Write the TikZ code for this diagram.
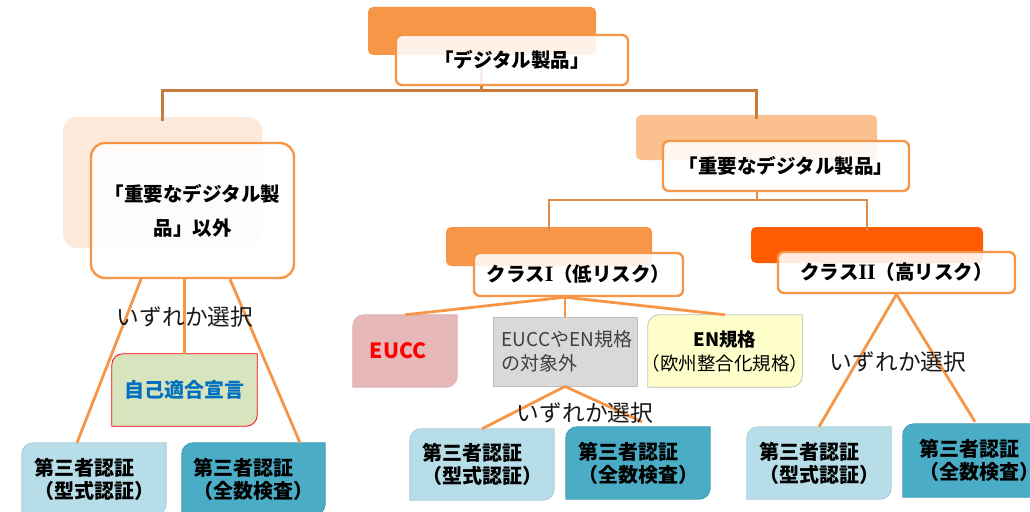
\documentclass[tikz,border=0pt]{standalone}
\usepackage{fontspec}
\setmainfont{Noto Sans CJK JP}
\newfontfamily\romanI{Liberation Serif}
\usetikzlibrary{calc}
\pgfdeclarelayer{back}
\pgfdeclarelayer{canvas}
\pgfsetlayers{canvas,back,main}
\definecolor{org}{HTML}{F79646}
\definecolor{lightorg}{HTML}{FAC090}
\definecolor{peach}{HTML}{FDE9D9}
\definecolor{darkorg}{HTML}{FF5B00}
\definecolor{brownln}{HTML}{C77B3D}
\definecolor{midln}{HTML}{E08B48}
\definecolor{euccfill}{HTML}{E6B9B8}
\definecolor{grayfill}{HTML}{D9D9D9}
\definecolor{grayedge}{HTML}{BFBFBF}
\definecolor{enfill}{HTML}{FFFFCC}
\definecolor{selffill}{HTML}{D7E4BD}
\definecolor{ltblue}{HTML}{B7DEE8}
\definecolor{ltblueedge}{HTML}{A9CCD6}
\definecolor{teal}{HTML}{4BACC6}
\definecolor{tealedge}{HTML}{3F9AB3}
\definecolor{selftext}{HTML}{0070C0}
\definecolor{graytext}{HTML}{404040}
\tikzset{
  sz/.style 2 args={minimum width=#1pt, minimum height=#2pt},
  backrect/.style={rounded corners=5pt, inner sep=0pt, fill=#1, draw=none},
  frontbox/.style={rounded corners=6pt, draw=org, line width=2.4pt, fill=white,
    fill opacity=0.88, text opacity=1, inner sep=0pt, align=center,
    font=\bfseries\fontsize{19.5}{23}\selectfont},
  leafbox/.style={inner sep=0pt, align=left, font=\bfseries\fontsize{20}{23}\selectfont},
  choice/.style={inner sep=0pt, font=\fontsize{22.7}{26}\selectfont, text=black!90},
  brownline/.style={draw=brownln, line width=3pt},
  midline/.style={draw=midln, line width=2.6pt},
  leafline/.style={draw=org, line width=2.8pt},
}
\newcommand\bigI[1]{{\romanI\fontsize{22}{23}\selectfont #1}}
\newcommand\diagfill[3]{%
  \begin{pgfonlayer}{back}
  \path[fill=#2, draw=#3, line width=0.8pt] (#1.south west) -- ([yshift=-11pt]#1.north west)
    .. controls ([yshift=-5pt]#1.north west) and ([xshift=5pt]#1.north west) .. ([xshift=11pt]#1.north west)
    -- (#1.north east) -- ([yshift=11pt]#1.south east)
    .. controls ([yshift=5pt]#1.south east) and ([xshift=-5pt]#1.south east) .. ([xshift=-11pt]#1.south east)
    -- cycle;
  \end{pgfonlayer}}
\begin{document}
\begin{tikzpicture}[x=1pt, y=-1pt]
\clip (0,0) rectangle (1030,511);
\begin{pgfonlayer}{canvas}
\fill[white] (0,0) rectangle (1030,511);
\end{pgfonlayer}

% top level
\node[backrect=org, sz={228}{48}] (topback) at (482,31) {};
\node[frontbox, sz={232}{50}] (top) at (512,60) {「デジタル製品」};

% second level
\node[backrect=peach, sz={199}{131}, rounded corners=14pt] (lback) at (162.5,182.5) {};
\node[frontbox, sz={203}{135}, rounded corners=14pt, font=\bfseries\fontsize{19.5}{34}\selectfont] (lbox) at (192.5,210.5) {「重要なデジタル製\\品」以外};
\node[backrect=lightorg, sz={241}{45}] (rback) at (756.5,137.5) {};
\node[frontbox, sz={246}{50}] (imp) at (786,166) {「重要なデジタル製品」};

% classes
\node[backrect=org, sz={206}{39}] (c1back) at (549,246.5) {};
\node[frontbox, sz={209}{43}] (c1) at (578.5,274.5) {クラス\bigI{I}（低リスク）};
\node[backrect=darkorg, sz={232}{36}] (c2back) at (867,245) {};
\node[frontbox, sz={237}{41}] (c2) at (896.5,272.5) {クラス\bigI{II}（高リスク）};

% class I children
\node[leafbox, sz={104}{72}, text=red, font=\bfseries\fontsize{21}{23}\selectfont] (eucc) at (405,351) {\hspace*{-14pt}EUCC};
\diagfill{eucc}{euccfill}{euccfill!85!gray}
\node[sz={144}{69}, inner sep=0pt, fill=grayfill, draw=grayedge, line width=0.8pt, align=left,
  text=graytext, font=\fontsize{19}{24}\selectfont] (gray) at (565,351.5) {\hspace*{4pt}EUCCやEN規格\\\hspace*{4pt}の対象外};
\node[sz={154}{72}, inner sep=0pt, align=center, font=\fontsize{18.5}{24}\selectfont] (en) at (725,351) {\textbf{EN規格}\\\kern-0.45em（欧州整合化規格）\kern-0.45em};
\diagfill{en}{enfill}{grayedge}

% left children
\node[leafbox, sz={145}{72}, text=selftext, align=center] (self) at (184.5,390) {自己適合宣言};
\diagfill{self}{selffill}{red}
\node[leafbox, sz={144}{72}] (lb1) at (94,479) {第三者認証\\（型式認証）};
\diagfill{lb1}{ltblue}{ltblueedge}
\node[leafbox, sz={143}{72}] (lb2) at (253.5,479) {第三者認証\\（全数検査）};
\diagfill{lb2}{teal}{tealedge}

% middle children
\node[leafbox, sz={144}{71}] (mb1) at (482,464.5) {第三者認証\\（型式認証）};
\diagfill{mb1}{ltblue}{ltblueedge}
\node[leafbox, sz={144}{72}] (mb2) at (638,463) {第三者認証\\（全数検査）};
\diagfill{mb2}{teal}{tealedge}

% right children
\node[leafbox, sz={144}{72}] (rb1) at (819,463) {第三者認証\\（型式認証）};
\diagfill{rb1}{ltblue}{ltblueedge}
\node[leafbox, sz={144}{73}] (rb2) at (975,460.5) {第三者認証\\（全数検査）\kern-0.4em};
\diagfill{rb2}{teal}{tealedge}

% connectors
\coordinate (hub) at (481,90);
\coordinate (hub2) at (757,200);
\begin{pgfonlayer}{back}
\draw[brownline] (top.center -| hub) -- (hub);
\end{pgfonlayer}
\draw[brownline] (top.south -| hub) -- (hub) -| ([yshift=-4pt]lback.north);
\draw[brownline] (hub) -| ([yshift=-4pt]rback.north);
\draw[midline] (imp.south -| hub2) -- (hub2) -| ([yshift=-4pt]c1back.north);
\draw[midline] (hub2) -| ([yshift=-4pt]c2back.north);

\draw[leafline] ($(lbox.south)+(-51.5,0)$) -- ($(lb1.north)+(-17,0)$);
\draw[leafline] (self.north |- lbox.south) -- (self.north);
\draw[leafline] ($(lbox.south)+(37.5,0)$) -- ($(lb2.north)+(46.5,0)$);

\coordinate (c1foot) at (gray.north |- c1.south);
\draw[leafline] (c1foot) -- (eucc.north);
\draw[leafline] (c1foot) -- (gray.north);
\draw[leafline] (c1foot) -- (en.north);

\draw[leafline] (gray.south) -- (mb1.north);
\draw[leafline] (gray.south) -- ($(mb2.north)+(4,-5)$);

\draw[leafline] (c2.south) -- (rb1.north);
\draw[leafline] (c2.south) -- ($(rb2.north)+(0,-2)$);

% labels
\node[choice] (ch1) at (185,317) {いずれか選択};
\node[choice] (ch2) at (585,413) {いずれか選択};
\node[choice] (ch3) at (898,362) {いずれか選択};
\end{tikzpicture}
\end{document}
